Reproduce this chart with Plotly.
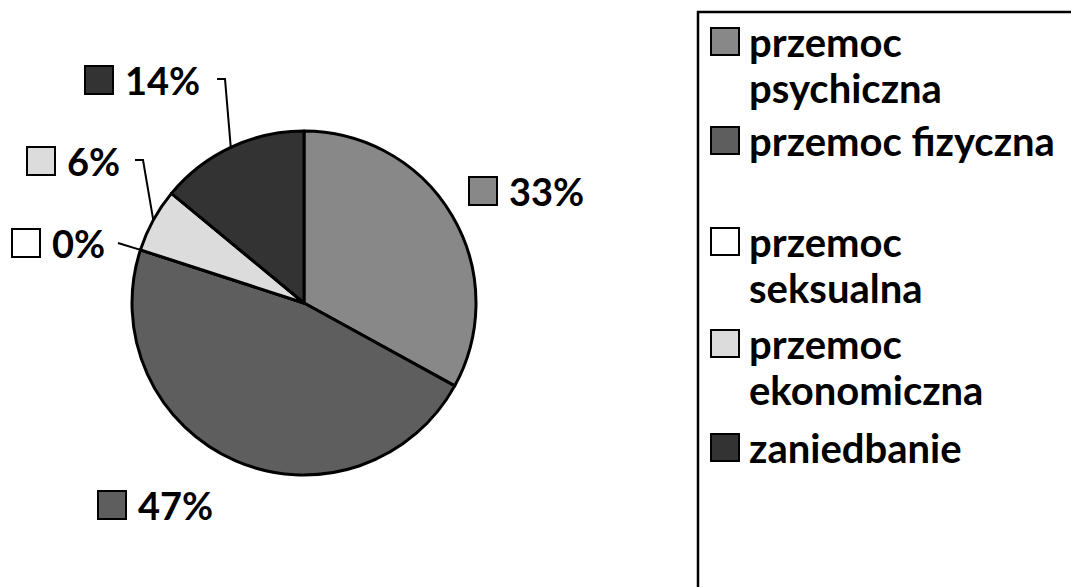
import math
import plotly.graph_objects as go

# ── data ────────────────────────────────────────────────────────────────
categories = [
    "przemoc psychiczna",
    "przemoc fizyczna",
    "przemoc seksualna",
    "przemoc ekonomiczna",
    "zaniedbanie",
]
values = [33, 47, 0, 6, 14]
legend_lines = [
    ["przemoc", "psychiczna"],
    ["przemoc fizyczna"],
    ["przemoc", "seksualna"],
    ["przemoc", "ekonomiczna"],
    ["zaniedbanie"],
]

# ── style ───────────────────────────────────────────────────────────────
W, H = 1071, 587
FONT = "Lato"
COLORS = ["#888888", "#5e5e5e", "#ffffff", "#dcdcdc", "#333333"]
CX, CY, R = 304, 303, 172   # pie centre / radius in px

# where each percentage label sits (swatch left x, centre y)
LABEL_POS = [(469, 191), (98, 505), (12, 243), (27, 161), (85, 80)]
# leader line elbows (None = no leader)
LEADER_START = [None, None, (118, 243), (135, 160), (217, 79)]
# legend: x-height centre of the first line of each entry, line pitch
LEGEND_Y = [46, 145, 246, 348, 452]
LINE_PITCH = 46

fig = go.Figure()

fig.add_trace(go.Pie(
    labels=categories, values=values,
    sort=False, direction="clockwise", rotation=0,
    marker=dict(colors=COLORS, line=dict(color="black", width=3)),
    textinfo="none", hoverinfo="label+percent",
    showlegend=False,
    domain=dict(x=[(CX - R) / W, (CX + R) / W],
                y=[(H - CY - R) / H, (H - CY + R) / H]),
))

shapes = []
annotations = []
total = sum(values)
cum = 0
for i, v in enumerate(values):
    mid = (cum + v / 2) / total * 2 * math.pi
    cum += v
    sx, sy = LABEL_POS[i]
    # swatch + percentage text
    shapes.append(dict(type="rect", xref="x", yref="y",
                       x0=sx, x1=sx + 28, y0=sy - 14, y1=sy + 14,
                       fillcolor=COLORS[i], line=dict(color="black", width=2)))
    annotations.append(dict(x=sx + 38, y=sy, xref="x", yref="y",
                            text=f"<b>{v}%</b>", showarrow=False,
                            xanchor="left", yanchor="middle",
                            font=dict(family=FONT, size=38, color="black")))
    if LEADER_START[i] is not None:
        ex = CX + R * math.sin(mid)
        ey = CY - R * math.cos(mid)
        lx, ly = LEADER_START[i]
        if v > 0:
            path = f"M {lx},{ly} L {lx + 8},{ly} L {ex},{ey}"
        else:
            path = f"M {lx},{ly} L {ex},{ey}"
        shapes.append(dict(type="path", xref="x", yref="y", path=path,
                           line=dict(color="black", width=2)))

# legend box (runs off the right and bottom of the page)
shapes.append(dict(type="rect", xref="x", yref="y",
                   x0=698, x1=1090, y0=12, y1=600,
                   line=dict(color="black", width=2.5), fillcolor="rgba(0,0,0,0)"))
for i, lines in enumerate(legend_lines):
    t1 = LEGEND_Y[i]
    shapes.append(dict(type="rect", xref="x", yref="y",
                       x0=711, x1=739, y0=t1 - 18, y1=t1 + 9,
                       fillcolor=COLORS[i], line=dict(color="black", width=2)))
    for k, txt in enumerate(lines):
        annotations.append(dict(x=748, y=t1 - 4 + k * LINE_PITCH, xref="x", yref="y",
                                text=f"<b>{txt}</b>", showarrow=False,
                                xanchor="left", yanchor="middle", borderpad=0,
                                font=dict(family=FONT, size=40, color="black")))

fig.update_layout(
    width=W, height=H,
    margin=dict(l=0, r=0, t=0, b=0),
    paper_bgcolor="white", plot_bgcolor="rgba(0,0,0,0)",
    xaxis=dict(range=[0, W], visible=False, fixedrange=True),
    yaxis=dict(range=[H, 0], visible=False, fixedrange=True),
    shapes=shapes, annotations=annotations,
    showlegend=False,
)

# page body has an 8px default margin; drop it so the chart sits at (0,0)
fig.write_html("out.html", config={"displayModeBar": False},
               post_script="document.body.style.margin='0px';")
